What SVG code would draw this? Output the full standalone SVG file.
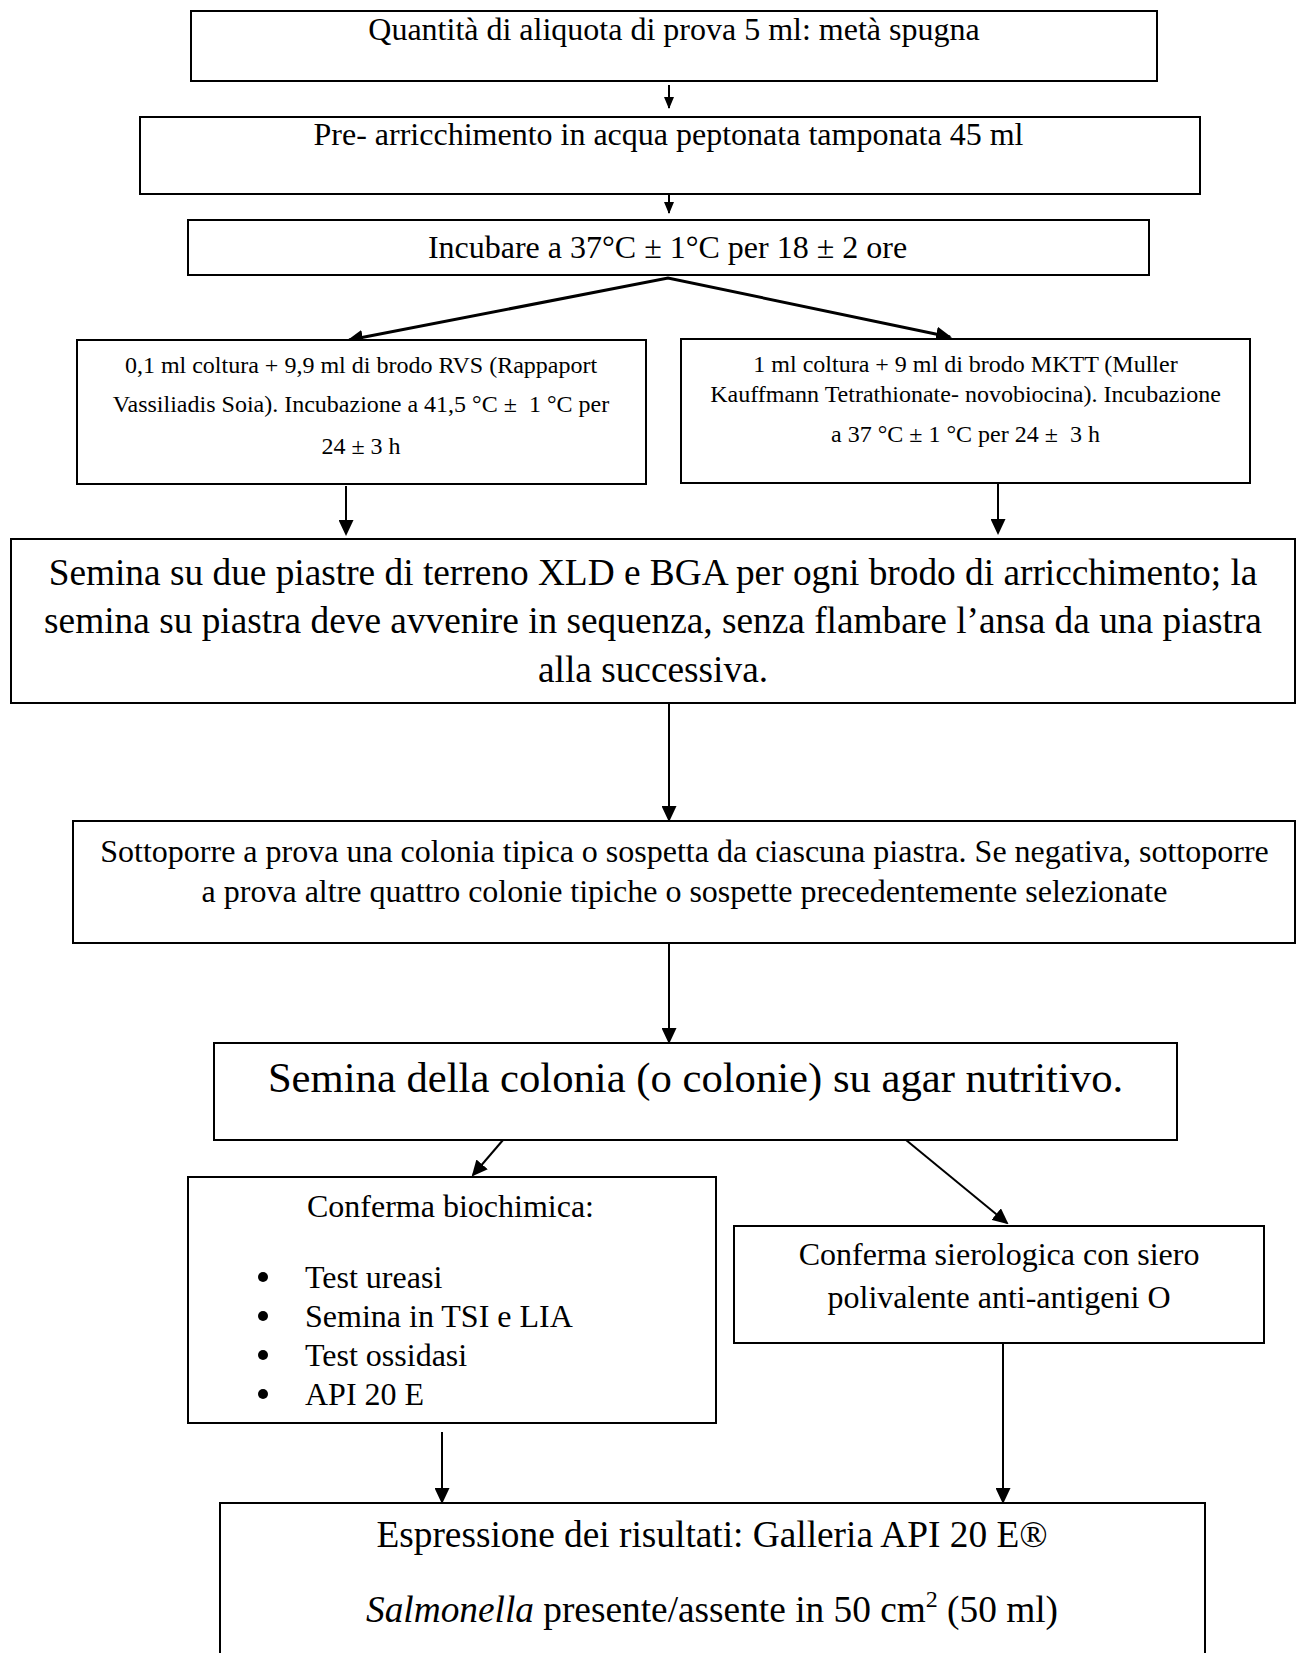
<svg xmlns="http://www.w3.org/2000/svg" width="1301" height="1653" viewBox="0 0 1301 1653">
<style>
  .box { fill: #fff; stroke: #000; stroke-width: 2; }
  .t { font-family: "Liberation Serif", "Times New Roman", serif; fill: #000; text-anchor: middle; }
  .t32 { font-size: 32px; }
  .t24 { font-size: 24px; }
  .t37 { font-size: 37.33px; }
  .t43 { font-size: 42.67px; }
  .lft { text-anchor: start; }
  .c { fill: none; stroke: #000; stroke-width: 2; }
  .thick { stroke-width: 3; }
</style>
<defs>
  <marker id="ahs" markerUnits="userSpaceOnUse" markerWidth="12" markerHeight="10" refX="11" refY="5" orient="auto">
    <path d="M0,0 L12,5 L0,10 z" fill="#000"/>
  </marker>
  <marker id="ahl" markerUnits="userSpaceOnUse" markerWidth="16" markerHeight="15" refX="14" refY="7.5" orient="auto-start-reverse">
    <path d="M0,0 L16,7.5 L0,15 z" fill="#000"/>
  </marker>
</defs>
<rect width="1301" height="1653" fill="#fff"/>

<g id="connectors">
  <line class="c" x1="669" y1="85" x2="669" y2="108" marker-end="url(#ahs)"/>
  <line class="c" x1="669" y1="190" x2="669" y2="213" marker-end="url(#ahs)"/>
  <path class="c thick" d="M349,340 L668,278 L950,337" marker-start="url(#ahl)" marker-end="url(#ahl)"/>
  <line class="c" x1="346" y1="486" x2="346" y2="534" marker-end="url(#ahl)"/>
  <line class="c" x1="998" y1="478" x2="998" y2="533" marker-end="url(#ahl)"/>
  <line class="c" x1="669" y1="703" x2="669" y2="820" marker-end="url(#ahl)"/>
  <line class="c" x1="669" y1="943" x2="669" y2="1042" marker-end="url(#ahl)"/>
  <line class="c" x1="503" y1="1140" x2="473" y2="1175" marker-end="url(#ahl)"/>
  <line class="c" x1="906" y1="1140" x2="1007" y2="1223" marker-end="url(#ahl)"/>
  <line class="c" x1="442" y1="1432" x2="442" y2="1502" marker-end="url(#ahl)"/>
  <line class="c" x1="1003" y1="1343" x2="1003" y2="1502" marker-end="url(#ahl)"/>
</g>

<g id="n1">
  <rect class="box" x="191" y="11" width="966" height="70"/>
  <text class="t t32" x="674" y="40">Quantità di aliquota di prova 5 ml: metà spugna</text>
</g>
<g id="n2">
  <rect class="box" x="140" y="117" width="1060" height="77"/>
  <text class="t t32" x="668.5" y="145">Pre- arricchimento in acqua peptonata tamponata 45 ml</text>
</g>
<g id="n3">
  <rect class="box" x="188" y="220" width="961" height="55"/>
  <text class="t t32" x="667.5" y="258">Incubare a 37°C ± 1°C per 18 ± 2 ore</text>
</g>
<g id="n4">
  <rect class="box" x="77" y="340" width="569" height="144"/>
  <text class="t t24" x="361" y="373">0,1 ml coltura + 9,9 ml di brodo RVS (Rappaport</text>
  <text class="t t24" x="361" y="412" xml:space="preserve">Vassiliadis Soia). Incubazione a 41,5 °C ±  1 °C per</text>
  <text class="t t24" x="361" y="454">24 ± 3 h</text>
</g>
<g id="n5">
  <rect class="box" x="681" y="339" width="569" height="144"/>
  <text class="t t24" x="965.5" y="372">1 ml coltura + 9 ml di brodo MKTT (Muller</text>
  <text class="t t24" x="965.5" y="402">Kauffmann Tetrathionate- novobiocina). Incubazione</text>
  <text class="t t24" x="965.5" y="442" xml:space="preserve">a 37 °C ± 1 °C per 24 ±  3 h</text>
</g>
<g id="n6">
  <rect class="box" x="11" y="539" width="1284" height="164"/>
  <text class="t t37" x="653" y="585">Semina su due piastre di terreno XLD e BGA per ogni brodo di arricchimento; la</text>
  <text class="t t37" x="653" y="633">semina su piastra deve avvenire in sequenza, senza flambare l’ansa da una piastra</text>
  <text class="t t37" x="653" y="682">alla successiva.</text>
</g>
<g id="n7">
  <rect class="box" x="73" y="821" width="1222" height="122"/>
  <text class="t t32" x="684.5" y="862">Sottoporre a prova una colonia tipica o sospetta da ciascuna piastra. Se negativa, sottoporre</text>
  <text class="t t32" x="684.5" y="902">a prova altre quattro colonie tipiche o sospette precedentemente selezionate</text>
</g>
<g id="n8">
  <rect class="box" x="214" y="1043" width="963" height="97"/>
  <text class="t t43" x="695.5" y="1092">Semina della colonia (o colonie) su agar nutritivo.</text>
</g>
<g id="n9">
  <rect class="box" x="188" y="1177" width="528" height="246"/>
  <text class="t t32" x="450.5" y="1217">Conferma biochimica:</text>
  <circle cx="263" cy="1277" r="5"/>
  <circle cx="263" cy="1316" r="5"/>
  <circle cx="263" cy="1355" r="5"/>
  <circle cx="263" cy="1394" r="5"/>
  <text class="t t32 lft" x="305" y="1288">Test ureasi</text>
  <text class="t t32 lft" x="305" y="1327">Semina in TSI e LIA</text>
  <text class="t t32 lft" x="305" y="1366">Test ossidasi</text>
  <text class="t t32 lft" x="305" y="1405">API 20 E</text>
</g>
<g id="n10">
  <rect class="box" x="734" y="1226" width="530" height="117"/>
  <text class="t t32" x="999" y="1265">Conferma sierologica con siero</text>
  <text class="t t32" x="999" y="1308">polivalente anti-antigeni O</text>
</g>
<g id="n11">
  <rect class="box" x="220" y="1503" width="985" height="170"/>
  <text class="t t37" x="712" y="1547">Espressione dei risultati: Galleria API 20 E®</text>
  <text class="t t37" x="712" y="1622"><tspan font-style="italic">Salmonella</tspan> presente/assente in 50 cm<tspan font-size="24" dy="-15">2</tspan><tspan dy="15"> (50 ml)</tspan></text>
</g>
</svg>
